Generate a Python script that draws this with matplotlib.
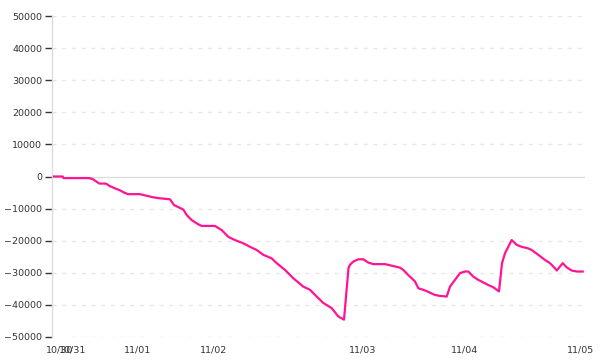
import matplotlib
matplotlib.use("Agg")
import matplotlib.pyplot as plt

# x positions (time index units) and cumulative values
x_vals = [2, 10.7, 11.5, 37.3, 40.7, 47.3, 54, 57.3, 63, 68, 72, 76, 88, 94.7, 101.3, 108, 118,
          122, 128, 131.3, 134.7, 139.7, 146.3, 149.7, 163, 169.7, 176.3, 183, 191.3, 198, 204.7,
          211.3, 219.7, 224.7, 233, 241.3, 251.3, 258, 264.7, 271.3, 279.7, 286.3, 292,
          296.5, 298, 301.3, 306.3, 311.3, 316.3, 321.3, 333, 341.3, 348, 351.3, 356.3, 363,
          366.3, 373, 378, 383, 388, 394.7, 398, 403, 408, 413, 416.3, 421.3, 426.3, 431.3,
          436.3, 441.3, 447, 450, 453, 456.3, 459.7, 464.7, 469.7, 476.3, 479.7, 486.3, 493,
          498, 503, 504.7, 510.7, 514.7, 519.7, 524.7, 530.7]
y_vals = [0, 0, -500, -500, -800, -2200, -2200, -2900, -3700, -4300, -5000, -5500, -5500, -6000,
          -6500, -6800, -7100, -8900, -9800, -10300, -12000, -13600, -14900, -15400, -15400,
          -16700, -18800, -19800, -20800, -21900, -22900, -24400, -25500, -27000, -29100,
          -31700, -34300, -35300, -37400, -39400, -41000, -43600, -44600,
          -28500, -27500, -26500, -25800, -25800, -26800, -27300, -27300, -27900, -28400,
          -29100, -30700, -32700, -34800, -35500, -36200, -36900, -37200, -37400, -34300,
          -32200, -30100, -29600, -29600, -31200, -32200, -33000, -33800, -34500, -35800,
          -27000, -23900, -21900, -19800, -21300, -21900, -22400, -22900, -24400, -26000,
          -27000, -28600, -29300, -27000, -28300, -29300, -29600, -29600]

tick_pos = [8, 21, 85.5, 162, 310.5, 413, 529]
tick_labels = ["10/30", "10/31", "11/01", "11/02", "11/03", "11/04", "11/05"]
y_ticks = [50000, 40000, 30000, 20000, 10000, 0, -10000, -20000, -30000, -40000, -50000]

fig = plt.figure(figsize=(6, 3.6), dpi=100)
ax = fig.add_axes([52/600, 1-337/360, (585-52)/600, (337-16)/360])

for yt in y_ticks:
    if yt == 0:
        ax.axhline(0, color="#dddddd", lw=1, zorder=1)
    else:
        ax.axhline(yt, color="#e8e8e8", lw=1, ls=(0, (3, 4)), zorder=1)

ax.plot(x_vals, y_vals, color="#ff1493", lw=1.6, zorder=3, solid_joinstyle="round")

ax.set_xlim(0, 533)
ax.set_ylim(-50000, 50000)
ax.set_yticks(y_ticks)
ax.set_yticklabels([str(v).replace("-", "\u2212") for v in y_ticks])
ax.set_xticks(tick_pos)
ax.set_xticklabels(tick_labels)

for s in ["top", "right", "bottom"]:
    ax.spines[s].set_visible(False)
ax.spines["left"].set_color("#dddddd")
ax.spines["left"].set_linewidth(1)

ax.tick_params(axis="y", length=5, width=1, color="#333333", pad=2,
               labelsize=6.8, labelcolor="#333333")
ax.tick_params(axis="x", length=0, pad=6, labelsize=6.8, labelcolor="#333333")

fig.savefig("out.png", dpi=100)
